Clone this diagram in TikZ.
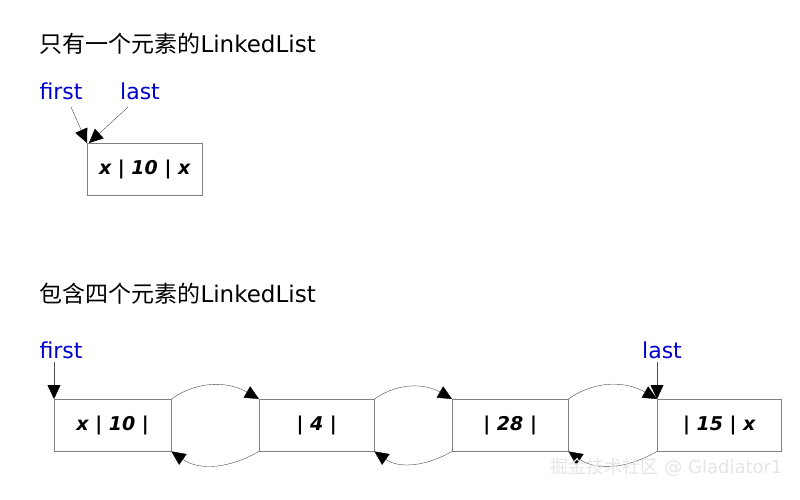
\documentclass[tikz,border=0pt]{standalone}
\usepackage{fontspec}
\setmainfont{DejaVu Sans}
\newfontfamily\cjk{Noto Sans CJK SC}
\usetikzlibrary{arrows.meta}
\tikzset{ cell/.style = { draw = gray
                        , anchor = north west
                        , minimum height = 52pt
                        , inner sep = 0pt
                        , font = \fontsize{19}{22}\selectfont\bfseries\itshape
                        },
          gap/.style = { anchor = north west
                       , minimum height = 52pt
                       , inner sep = 0pt
                       },
          ptr/.style = { text = blue!80!black
                       , font = \fontsize{22}{26}\selectfont
                       },
          link/.style = { gray!60!black
                        , -{Triangle[length=14pt,width=13pt,black]}
                        }
        }
\begin{document}
\begin{tikzpicture}[x=1pt, y=-1pt]
      \useasboundingbox (0,0) rectangle (800,499);
      \node[anchor=west, font=\fontsize{23}{26}\selectfont] (t1) at (36,44) {{\cjk 只有一个元素的}LinkedList};
      \node[anchor=west, font=\fontsize{23}{26}\selectfont] (t2) at (36,294) {{\cjk 包含四个元素的}LinkedList};
      % one element
      \node[cell, minimum width=115pt] (o1) at (87,143) {x | 10 | x};
      \node[ptr] (f1) at (61,91) {first};
      \node[ptr] (l1) at (140,91) {last};
      \draw[link] (f1.south) ++(10,4) -- (o1.north west);
      \draw[link] (l1.south) ++(-12,4) -- ([xshift=2pt]o1.north west);
      % four elements
      \node[cell, minimum width=117pt] (n1) at (54,399) {x | 10 |};
      \node[gap, minimum width=88pt] (p1) at (n1.north east) {};
      \node[cell, minimum width=115pt] (n2) at (259,399) {| 4 |};
      \node[gap, minimum width=78pt] (p2) at (n2.north east) {};
      \node[cell, minimum width=116pt] (n3) at (452,399) {| 28 |};
      \node[gap, minimum width=89pt] (p3) at (n3.north east) {};
      \node[cell, minimum width=124pt] (n4) at (657,399) {| 15 | x};
      \foreach \a/\b in {1/2, 2/3, 3/4} {
        \draw[link] (p\a.north west) to[out=35, in=150] (n\b.north west);
        \draw[link] (n\b.south west) to[out=210, in=-35] (p\a.south west);
      }
      \node[ptr] (f2) at (61,350) {first};
      \node[ptr] (l2) at (662,350) {last};
      \draw[link] (54,362) -- (n1.north west);
      \draw[link] (657,362) -- (n4.north west);
      \node[anchor=east, text=gray!20, font=\fontsize{18}{22}\selectfont] (wm) at (786,467) {{\cjk 掘金技术社区} @ Gladiator1};
\end{tikzpicture}
\end{document}
